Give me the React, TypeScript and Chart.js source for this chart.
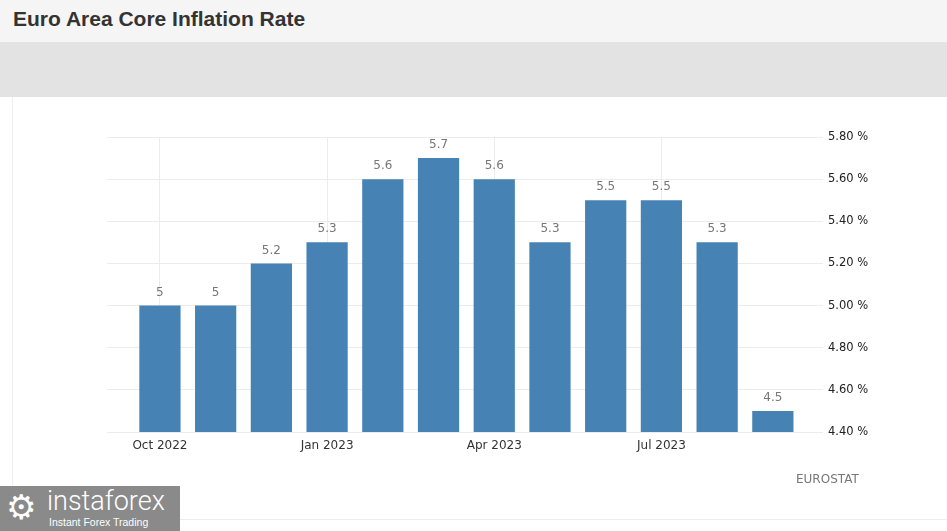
import React, { useEffect, useRef } from "react";
import { Chart, registerables } from "chart.js";

Chart.register(...registerables);

const months = [
  "Oct 2022", "Nov 2022", "Dec 2022", "Jan 2023", "Feb 2023", "Mar 2023",
  "Apr 2023", "May 2023", "Jun 2023", "Jul 2023", "Aug 2023", "Sep 2023",
];
const coreInflation = [5, 5, 5.2, 5.3, 5.6, 5.7, 5.6, 5.3, 5.5, 5.5, 5.3, 4.5];
const xTickLabels = ["Oct 2022", "Jan 2023", "Apr 2023", "Jul 2023"];
const yMin = 4.4;
const yMax = 5.8;
const yStep = 0.2;

const FONT = "'DejaVu Sans', Verdana, sans-serif";

const valueLabels = {
  id: "valueLabels",
  afterDatasetsDraw(chart: any) {
    const ctx = chart.ctx;
    const meta = chart.getDatasetMeta(0);
    ctx.save();
    ctx.font = `12px ${FONT}`;
    ctx.fillStyle = "#777777";
    ctx.textAlign = "center";
    ctx.textBaseline = "bottom";
    meta.data.forEach((bar: any, i: number) => {
      ctx.fillText(String(coreInflation[i]), bar.x, bar.y - 7);
    });
    ctx.restore();
  },
};

export default function App() {
  const canvasRef = useRef<HTMLCanvasElement | null>(null);

  useEffect(() => {
    document.body.style.margin = "0";
    const tickValues = xTickLabels.map((l) => months.indexOf(l));
    const chart = new Chart(canvasRef.current as HTMLCanvasElement, {
      type: "bar",
      data: {
        datasets: [
          {
            label: "Core Inflation Rate",
            data: coreInflation.map((v, i) => ({ x: i, y: v })),
            backgroundColor: "#4682b4",
            borderWidth: 0,
            barPercentage: 0.74,
            categoryPercentage: 1,
          },
        ],
      },
      options: {
        animation: false,
        responsive: true,
        maintainAspectRatio: false,
        layout: { padding: { left: 107, right: 74, top: 40, bottom: 69 } },
        plugins: {
          legend: { display: false },
          tooltip: { enabled: false },
        },
        scales: {
          x: {
            type: "linear",
            min: -0.95,
            max: 11.9,
            offset: false,
            afterBuildTicks: (scale: any) => {
              scale.ticks = tickValues.map((v) => ({ value: v }));
            },
            afterFit: (scale: any) => {
              scale.height = 30;
            },
            ticks: {
              autoSkip: false,
              maxRotation: 0,
              padding: 7,
              color: "#333333",
              font: { family: FONT, size: 12 },
              callback: (value: any) => months[Number(value)] ?? "",
            },
            grid: { color: "#ececec", drawTicks: false, offset: false },
            border: { display: false },
          },
          y: {
            position: "right",
            min: yMin,
            max: yMax,
            afterFit: (scale: any) => {
              scale.width = 50;
            },
            ticks: {
              stepSize: yStep,
              padding: 5,
              color: "#222222",
              font: { family: FONT, size: 11.5 },
              callback: (value: any) => Number(value).toFixed(2) + " %",
            },
            grid: { color: "#ececec", drawTicks: false },
            border: { display: false },
          },
        },
      },
      plugins: [valueLabels],
    });
    return () => chart.destroy();
  }, []);

  return (
    <div
      style={{
        position: "fixed",
        left: 0,
        top: 0,
        width: 947,
        height: 531,
        background: "#ffffff",
        overflow: "hidden",
        fontFamily: FONT,
      }}
    >
      <div
        style={{
          position: "absolute",
          left: 0,
          top: 0,
          width: 947,
          height: 42,
          background: "#f5f5f5",
        }}
      >
        <div
          style={{
            position: "absolute",
            left: 13,
            top: 7,
            fontFamily: "'Liberation Sans', Arial, sans-serif",
            fontWeight: "bold",
            fontSize: 21,
            color: "#333333",
            whiteSpace: "nowrap",
          }}
        >
          Euro Area Core Inflation Rate
        </div>
      </div>
      <div
        style={{
          position: "absolute",
          left: 0,
          top: 42,
          width: 947,
          height: 55,
          background: "#e3e3e3",
        }}
      />
      <div
        style={{
          position: "absolute",
          left: 12,
          top: 97,
          width: 935,
          height: 422,
          borderLeft: "1px solid #eeeeee",
          borderBottom: "1px solid #eeeeee",
        }}
      />
      <div style={{ position: "absolute", left: 0, top: 97, width: 947, height: 434 }}>
        <canvas ref={canvasRef} />
      </div>
      <div
        style={{
          position: "absolute",
          left: 796,
          top: 472,
          fontSize: 12,
          color: "#777777",
          whiteSpace: "nowrap",
        }}
      >
        EUROSTAT
      </div>
      <div
        style={{
          position: "absolute",
          left: 0,
          top: 486,
          width: 180,
          height: 45,
          background: "#8a8a8a",
          color: "#ffffff",
          overflow: "hidden",
        }}
      >
        <div style={{ position: "absolute", left: 6, top: 2, fontSize: 34, lineHeight: "38px" }}>⚙</div>
        <div
          style={{
            position: "absolute",
            left: 47,
            top: 0,
            fontFamily: "Roboto, 'Open Sans', sans-serif",
            fontWeight: 300,
            fontSize: 27,
            lineHeight: "30px",
            whiteSpace: "nowrap",
          }}
        >
          instaforex
        </div>
        <div
          style={{
            position: "absolute",
            left: 49,
            top: 30,
            fontFamily: "'Liberation Sans', Arial, sans-serif",
            fontSize: 10.5,
            lineHeight: "12px",
            whiteSpace: "nowrap",
          }}
        >
          Instant Forex Trading
        </div>
      </div>
    </div>
  );
}
